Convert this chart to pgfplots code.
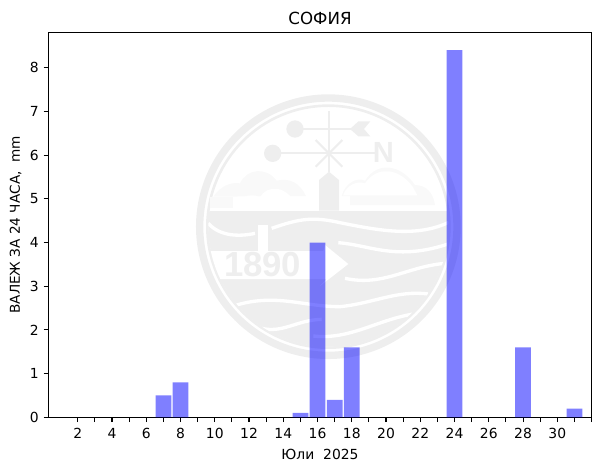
\documentclass[border=0pt]{standalone}
\usepackage{fontspec}
\setmainfont{DejaVu Sans}
\newfontfamily\logofont{Liberation Sans}
\usepackage{pgfplots}
\pgfplotsset{compat=1.18}
\definecolor{logogray}{RGB}{238,238,238}
\definecolor{cloudgray}{RGB}{249,249,249}
\pgfplotstableread{
day rain
7 0.5
8 0.8
15 0.1
16 4.0
17 0.4
18 1.6
24 8.4
28 1.6
31 0.2
}\rain
\begin{document}
\begin{tikzpicture}[x=0.72pt,y=-0.72pt]
\path[use as bounding box] (0,0) rectangle (600,470);
% watermark, coordinates are zoomed crop px (3x), origin at 190,90
\begin{scope}[shift={(190,90)},x=0.24pt,y=-0.24pt]
  \draw[logogray,line width=5.3pt] (415,410) circle (386);
  \draw[logogray,line width=1.9pt] (415,410) circle (363);
  % clouds
  \fill[cloudgray] (70,320) .. controls (90,290) and (120,275) .. (150,280) .. controls (170,235) and (230,230) .. (260,272) .. controls (300,262) and (330,280) .. (348,318) -- cycle;
  \fill[cloudgray] (60,320) rectangle (130,355);
  \fill[white] (130,355) .. controls (140,325) and (180,305) .. (210,322) .. controls (230,285) and (290,280) .. (325,355) -- cycle;
  \fill[cloudgray] (455,318) .. controls (465,280) and (500,260) .. (525,272) .. controls (560,215) and (630,220) .. (675,285) .. controls (710,285) and (730,310) .. (735,345) -- (480,345) -- (480,318) -- cycle;
  \fill[white] (459,316) .. controls (470,285) and (500,272) .. (525,280) .. controls (560,228) and (625,232) .. (668,290) -- (682,316) -- cycle;
  % vane
  \fill[logogray] (387,362) -- (387,270) -- (417,245) -- (447,270) -- (447,362) -- cycle;
  \draw[logogray,line width=2pt] (417,245) -- (417,62);
  \draw[logogray,line width=1.6pt] (315,117) -- (510,117);
  \draw[logogray,line width=1.6pt] (248,190) -- (555,190);
  \draw[logogray,line width=1.6pt] (377,150) -- (457,230) (457,150) -- (377,230);
  \fill[logogray] (315,117) circle (26);
  \fill[logogray] (248,190) circle (26);
  \fill[logogray] (480,117) -- (505,94) -- (541,94) -- (522,117) -- (541,139) -- (505,139) -- cycle;
  \node[logogray,font=\logofont\bfseries\fontsize{21}{21}\selectfont,inner sep=0pt] at (580,188) {N};
  % lower half
  \begin{scope}
    \clip (415,410) circle (360);
    \fill[logogray] (0,362) rectangle (830,800);
    \draw[white,line width=2.4pt] (55,400) .. controls (90,440) and (150,440) .. (195,430);
    \draw[white,line width=2.4pt] (245,415) .. controls (330,385) and (370,380) .. (450,398) .. controls (560,420) and (680,445) .. (780,395);
    \draw[white,line width=2.4pt] (445,458) .. controls (540,465) and (620,515) .. (780,460);
    \draw[white,line width=2.4pt] (465,565) .. controls (580,590) and (650,530) .. (765,520);
    \draw[white,line width=2.4pt] (140,645) .. controls (260,610) and (340,650) .. (450,650) .. controls (550,640) and (620,600) .. (715,612);
    \draw[white,line width=2.4pt] (215,715) .. controls (280,730) and (320,690) .. (395,688);
    \draw[white,line width=2.4pt] (370,738) .. controls (480,750) and (560,690) .. (670,672);
    \fill[white] (40,483) -- (400,483) -- (405,465) -- (475,522) -- (390,588) -- (410,567) -- (70,567) -- cycle;
    \fill[white] (205,405) rectangle (235,484);
  \end{scope}
  \node[logogray,font=\logofont\bfseries\fontsize{25}{25}\selectfont,inner sep=0pt] at (218,525) {1890};
\end{scope}
\begin{axis}[
  at={(34.92pt,-300.46pt)}, anchor=south west,
  scale only axis, width=391pt, height=277.2pt,
  font=\fontsize{10}{12}\selectfont,
  ybar, bar width=0.92, bar shift=0pt,
  xmin=0.29, xmax=32, ymin=0, ymax=8.81,
  xtick={2,4,...,30}, minor xtick={3,5,...,31,32},
  ytick={0,...,8},
  axis line style={line width=0.8pt},
  tick align=outside, tick pos=left,
  major tick length=3.5pt, minor tick length=3.5pt,
  every tick/.style={black,line width=0.8pt},
  minor tick style={black,line width=0.8pt},
  /pgf/number format/assume math mode=true,
  xticklabel style={yshift=-0.6pt},
  title={СОФИЯ}, title style={font=\fontsize{12}{14}\selectfont,yshift=-3.8pt},
  xlabel={Юли\ \ 2025}, xlabel style={yshift=-0.6pt},
  ylabel={ВАЛЕЖ ЗА 24 ЧАСА,\ \ mm},
  ylabel style={font=\fontsize{9.8}{12}\selectfont,yshift=-0.8pt},
]
\addplot[draw=none,fill=blue,fill opacity=0.5] table[x=day,y=rain] {\rain};
\end{axis}
\end{tikzpicture}
\end{document}
